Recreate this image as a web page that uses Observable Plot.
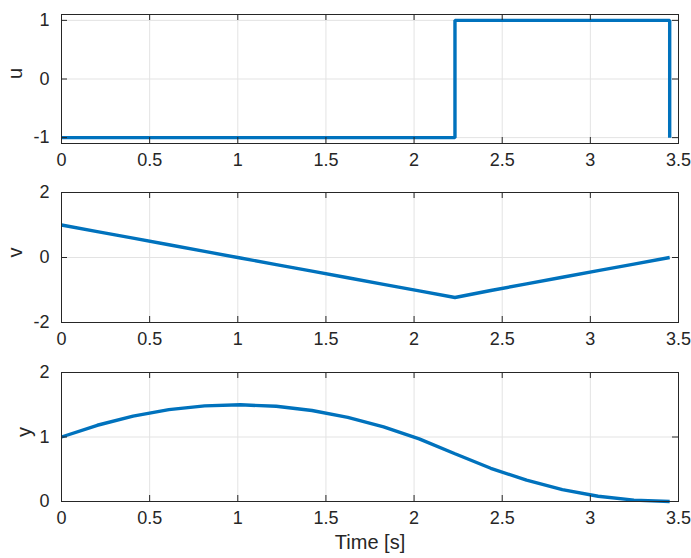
<!DOCTYPE html>
<html>
<head>
<meta charset="utf-8">
<script src="https://cdn.jsdelivr.net/npm/d3@7"></script>
<script src="https://cdn.jsdelivr.net/npm/@observablehq/plot@0.6"></script>
<style>
  html, body { margin: 0; padding: 0; background: #fff; }
  #chart { position: relative; width: 691px; height: 558px; background: #fff; }
  #chart > div, #chart > svg { position: absolute; left: 0; }
</style>
</head>
<body>
<div id="chart"></div>
<script>
// Time grid (s)
const time = [0, 0.203, 0.406, 0.609, 0.812, 1.015, 1.218, 1.421, 1.624, 1.827, 2.029, 2.232, 2.435, 2.638, 2.841, 3.044, 3.247, 3.450];
// Control u (stairs)
const uValues = [-1, -1, -1, -1, -1, -1, -1, -1, -1, -1, -1, 1, 1, 1, 1, 1, 1, -1];
// Velocity v
const vValues = [1, 0.797, 0.594, 0.391, 0.188, -0.015, -0.218, -0.421, -0.624, -0.827, -1.029, -1.232, -1.015, -0.812, -0.609, -0.406, -0.203, 0];
// Position y
const yValues = [1, 1.182, 1.324, 1.424, 1.482, 1.500, 1.476, 1.411, 1.305, 1.158, 0.971, 0.741, 0.515, 0.330, 0.185, 0.082, 0.021, 0];

const xTicks = [0, 0.5, 1, 1.5, 2, 2.5, 3, 3.5];
const uTicks = [-1, 0, 1];
const vTicks = [-2, 0, 2];
const yTicks = [0, 1, 2];
const xLabel = "Time [s]";

const BLUE = "#0072BD";
const INK = "#262626";
const GRID = "#e3e3e3";
const W = 691, ML = 61, MR = 13;
const plotW = W - ML - MR;

function panel({values, yDomain, yTicks, yLabel, yLabelDx, top, height, marginBottom, curve, xlab}) {
  const marginTop = 14;
  const boxH = height - marginTop - marginBottom;
  const data = time.map((t, i) => ({t, val: values[i]}));
  const marks = [
    Plot.gridX(xTicks, {stroke: GRID, strokeOpacity: 1, strokeWidth: 1}),
    Plot.gridY(yTicks, {stroke: GRID, strokeOpacity: 1, strokeWidth: 1}),
    Plot.line(data, {x: "t", y: "val", stroke: BLUE, strokeWidth: 3.4, curve: curve || "linear", strokeLinejoin: "miter", strokeLinecap: "butt"}),
    Plot.frame({stroke: INK, strokeWidth: 1}),
    // inward ticks: bottom & top
    Plot.tickX(xTicks, {x: d => d, stroke: INK, insetTop: boxH - 6}),
    Plot.tickX(xTicks, {x: d => d, stroke: INK, insetBottom: boxH - 6}),
    // inward ticks: left & right
    Plot.tickY(yTicks, {y: d => d, stroke: INK, insetRight: plotW - 6}),
    Plot.tickY(yTicks, {y: d => d, stroke: INK, insetLeft: plotW - 6}),
    Plot.axisX({ticks: xTicks, tickSize: 0, tickPadding: 10, tickFormat: d => String(d), label: null, fontSize: 18}),
    Plot.axisY({ticks: yTicks, tickSize: 0, tickPadding: 12, tickFormat: d => String(d), label: null, fontSize: 18}),
    Plot.text([yLabel], {frameAnchor: "left", dx: yLabelDx, rotate: -90, fontSize: 20, fill: INK, text: d => d})
  ];
  if (xlab) {
    marks.push(Plot.text([xlab], {frameAnchor: "bottom", dy: 47, fontSize: 20, fill: INK, text: d => d}));
  }
  const svg = Plot.plot({
    width: W,
    height,
    marginTop,
    marginBottom,
    marginLeft: ML,
    marginRight: MR,
    x: {domain: [0, 3.5], axis: null},
    y: {domain: yDomain, axis: null},
    style: {fontFamily: "'Liberation Sans', Arial, Helvetica, sans-serif", fontSize: "18px", color: INK, background: "transparent", overflow: "visible"},
    marks
  });
  svg.style.top = top + "px";
  svg.style.position = "absolute";
  return svg;
}

const root = document.getElementById("chart");
root.appendChild(panel({values: uValues, yDomain: [-1.1, 1.1], yTicks: uTicks, yLabel: "u", yLabelDx: -46, top: 0, height: 170, marginBottom: 27, curve: "step-after"}));
root.appendChild(panel({values: vValues, yDomain: [-2, 2], yTicks: vTicks, yLabel: "v", yLabelDx: -46, top: 178, height: 171, marginBottom: 27}));
root.appendChild(panel({values: yValues, yDomain: [0, 2], yTicks: yTicks, yLabel: "y", yLabelDx: -37, top: 358, height: 200, marginBottom: 57, xlab: xLabel}));
</script>
</body>
</html>
